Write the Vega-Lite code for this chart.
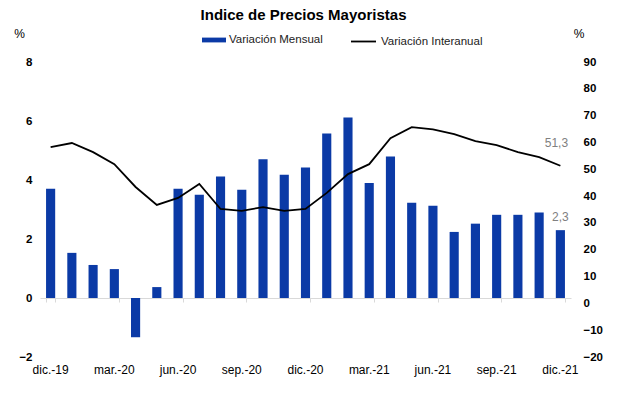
{
  "$schema": "https://vega.github.io/schema/vega-lite/v6.json",
  "width": 531,
  "height": 295,
  "autosize": {"type": "none"},
  "padding": {"left": 40, "top": 62, "right": 46, "bottom": 42},
  "background": "white",
  "title": {"text": "Indice de Precios Mayoristas", "font": "Liberation Sans", "fontSize": 15, "fontWeight": "bold", "color": "#000000", "anchor": "middle", "frame": "group", "dx": -2, "offset": 4},
  "data": {"values": [
    {"mes": "dic.-19", "mensual": 3.7, "interanual": 58.3},
    {"mes": "ene.-20", "mensual": 1.53, "interanual": 59.8},
    {"mes": "feb.-20", "mensual": 1.12, "interanual": 56.4},
    {"mes": "mar.-20", "mensual": 0.98, "interanual": 51.9},
    {"mes": "abr.-20", "mensual": -1.33, "interanual": 43.4},
    {"mes": "may.-20", "mensual": 0.37, "interanual": 36.7},
    {"mes": "jun.-20", "mensual": 3.7, "interanual": 39.3},
    {"mes": "jul.-20", "mensual": 3.5, "interanual": 44.5},
    {"mes": "ago.-20", "mensual": 4.12, "interanual": 35.2},
    {"mes": "sep.-20", "mensual": 3.67, "interanual": 34.5},
    {"mes": "oct.-20", "mensual": 4.7, "interanual": 35.9},
    {"mes": "nov.-20", "mensual": 4.18, "interanual": 34.5},
    {"mes": "dic.-20", "mensual": 4.42, "interanual": 35.2},
    {"mes": "ene.-21", "mensual": 5.58, "interanual": 41.2},
    {"mes": "feb.-21", "mensual": 6.12, "interanual": 48.2},
    {"mes": "mar.-21", "mensual": 3.9, "interanual": 51.9},
    {"mes": "abr.-21", "mensual": 4.8, "interanual": 61.6},
    {"mes": "may.-21", "mensual": 3.23, "interanual": 65.7},
    {"mes": "jun.-21", "mensual": 3.13, "interanual": 64.9},
    {"mes": "jul.-21", "mensual": 2.24, "interanual": 63.1},
    {"mes": "ago.-21", "mensual": 2.52, "interanual": 60.5},
    {"mes": "sep.-21", "mensual": 2.82, "interanual": 59.0},
    {"mes": "oct.-21", "mensual": 2.82, "interanual": 56.4},
    {"mes": "nov.-21", "mensual": 2.9, "interanual": 54.5},
    {"mes": "dic.-21", "mensual": 2.3, "interanual": 51.3, "etq_m": "2,3", "etq_i": "51,3"}
  ]},
  "layer": [
    {
      "encoding": {
        "x": {"field": "mes", "type": "ordinal", "sort": null,
          "scale": {"paddingInner": 0.57, "paddingOuter": 0.285},
          "axis": {"values": ["dic.-19", "mar.-20", "jun.-20", "sep.-20", "dic.-20", "mar.-21", "jun.-21", "sep.-21", "dic.-21"],
            "orient": "bottom", "domain": false, "ticks": false, "grid": false, "labelAngle": 0, "labelPadding": 7,
            "labelFont": "Liberation Sans", "labelFontSize": 12, "labelColor": "#000000", "title": null}},
        "y": {"field": "mensual", "type": "quantitative",
          "scale": {"domain": [-2, 8], "nice": false, "zero": false},
          "axis": {"values": [-2, 0, 2, 4, 6, 8], "orient": "left", "domain": false, "ticks": false, "grid": false,
            "labelFont": "Liberation Sans", "labelFontSize": 11.5, "labelFontWeight": "bold", "labelColor": "#000000",
            "labelPadding": 8, "labelFlush": false, "labelOverlap": false,
            "title": "%", "titleAngle": 0, "titleX": -21, "titleY": -29, "titleAlign": "center", "titleBaseline": "middle",
            "titleFont": "Liberation Sans", "titleFontSize": 12, "titleFontWeight": "normal", "titleColor": "#000000"}}
      },
      "layer": [
        {
          "mark": {"type": "bar"},
          "encoding": {
            "fill": {"datum": "Variación Mensual", "type": "nominal",
              "scale": {"range": ["#0b3aa6"]},
              "legend": {"orient": "none", "legendX": 162, "legendY": -34, "title": null, "padding": 0,
                "symbolType": "M-1,-0.2H1V0.2H-1Z", "symbolSize": 576, "symbolStrokeWidth": 0,
                "labelFont": "Liberation Sans", "labelFontSize": 11.5, "labelColor": "#222222", "labelOffset": 3}}
          }
        },
        {
          "transform": [{"filter": "datum.etq_m"}],
          "mark": {"type": "text", "font": "Liberation Sans", "fontSize": 12, "color": "#808080", "dy": -13, "baseline": "middle"},
          "encoding": {
            "text": {"field": "etq_m"}
          }
        }
      ]
    },
    {
      "encoding": {
        "x": {"field": "mes", "type": "ordinal", "sort": null,
          "axis": {"values": ["dic.-19", "mar.-20", "jun.-20", "sep.-20", "dic.-20", "mar.-21", "jun.-21", "sep.-21", "dic.-21"],
            "orient": "bottom", "offset": -59, "labels": false, "domain": true, "domainColor": "#d9d9d9", "domainWidth": 1,
            "ticks": true, "tickColor": "#d9d9d9", "tickSize": 4, "tickBand": "extent", "grid": false, "title": null}},
        "y": {"field": "interanual", "type": "quantitative",
          "scale": {"domain": [-20, 90], "nice": false, "zero": false},
          "axis": {"values": [-20, -10, 0, 10, 20, 30, 40, 50, 60, 70, 80, 90], "orient": "right", "domain": false, "ticks": false, "grid": false,
            "labelFont": "Liberation Sans", "labelFontSize": 11.5, "labelFontWeight": "bold", "labelColor": "#000000",
            "labelPadding": 12, "labelFlush": false, "labelOverlap": false,
            "title": "%", "titleAngle": 0, "titleX": 7.5, "titleY": -29, "titleAlign": "center", "titleBaseline": "middle",
            "titleFont": "Liberation Sans", "titleFontSize": 12, "titleFontWeight": "normal", "titleColor": "#000000"}}
      },
      "layer": [
        {
          "mark": {"type": "line", "strokeWidth": 1.8},
          "encoding": {
            "stroke": {"datum": "Variación Interanual", "type": "nominal",
              "scale": {"range": ["#000000"]},
              "legend": {"orient": "none", "legendX": 310, "legendY": -34, "title": null, "padding": 0,
                "symbolType": "stroke", "symbolSize": 625, "symbolStrokeWidth": 1.8,
                "labelFont": "Liberation Sans", "labelFontSize": 11.5, "labelColor": "#222222", "labelOffset": 4}}
          }
        },
        {
          "transform": [{"filter": "datum.etq_i"}],
          "mark": {"type": "text", "font": "Liberation Sans", "fontSize": 12, "color": "#808080", "dy": -23, "dx": -4, "baseline": "middle"},
          "encoding": {
            "text": {"field": "etq_i"}
          }
        }
      ]
    }
  ],
  "resolve": {"scale": {"y": "independent", "fill": "independent", "stroke": "independent"}, "axis": {"x": "independent"}},
  "config": {"view": {"stroke": null}, "font": "Liberation Sans"}
}
